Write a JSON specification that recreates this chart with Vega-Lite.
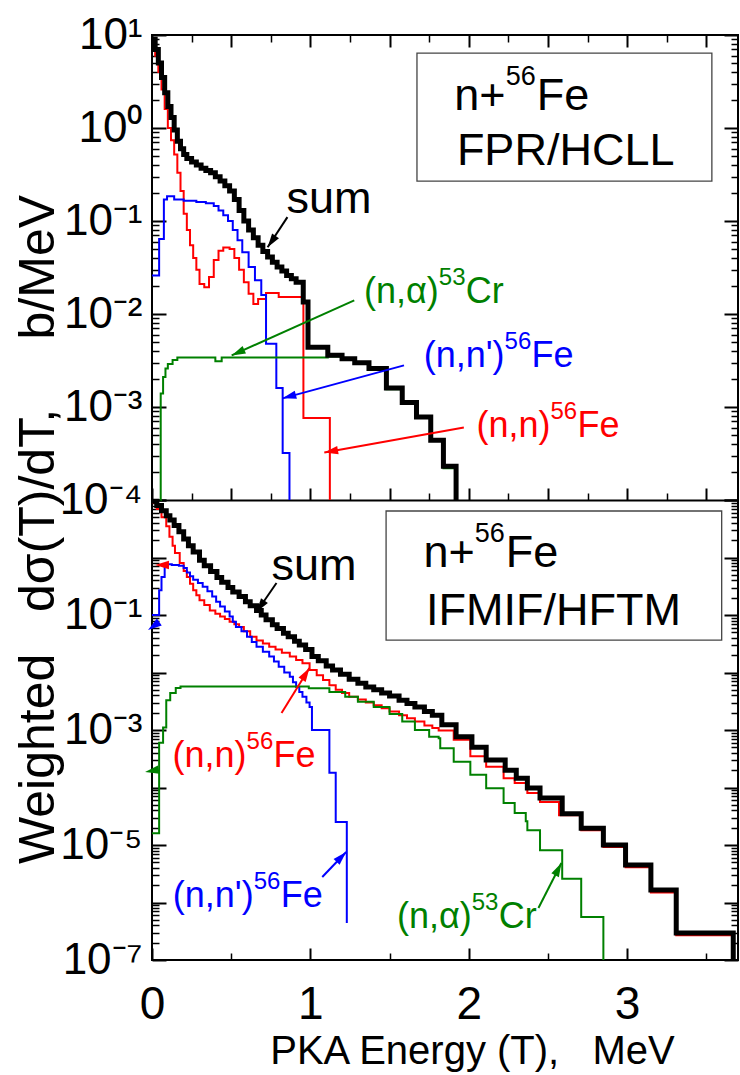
{
"$schema": "https://vega.github.io/schema/vega-lite/v6.json",
"width": 586, "height": 925,
"autosize": {"type": "none"},
"padding": {"left": 152, "top": 35, "right": 2, "bottom": 115},
"background": "white",
"config": {
 "view": {"stroke": "black", "strokeWidth": 2},
 "font": "Liberation Sans",
 "axis": {"labelFont": "Liberation Sans", "titleFont": "Liberation Sans", "tickColor": "black", "domainColor": "black", "labelColor": "black", "titleColor": "black", "grid": false, "labelOverlap": false, "labelFlush": false, "labelBound": false, "titleFontWeight": "normal", "domain": false, "tickWidth": 2},
 "text": {"font": "Liberation Sans"}
},
"datasets": {
 "curves": [
  {"p":"top","s":"sum","T":0.0,"v":9.0},{"p":"top","s":"sum","T":0.02,"v":7.0},{"p":"top","s":"sum","T":0.04,"v":5.0},{"p":"top","s":"sum","T":0.06,"v":3.5},{"p":"top","s":"sum","T":0.08,"v":2.4},{"p":"top","s":"sum","T":0.10,"v":1.7},{"p":"top","s":"sum","T":0.12,"v":1.3},{"p":"top","s":"sum","T":0.14,"v":0.95},{"p":"top","s":"sum","T":0.16,"v":0.72},{"p":"top","s":"sum","T":0.18,"v":0.6},{"p":"top","s":"sum","T":0.20,"v":0.52},{"p":"top","s":"sum","T":0.22,"v":0.47},{"p":"top","s":"sum","T":0.25,"v":0.43},{"p":"top","s":"sum","T":0.28,"v":0.40},{"p":"top","s":"sum","T":0.31,"v":0.37},{"p":"top","s":"sum","T":0.34,"v":0.35},{"p":"top","s":"sum","T":0.37,"v":0.33},{"p":"top","s":"sum","T":0.40,"v":0.30},{"p":"top","s":"sum","T":0.43,"v":0.27},{"p":"top","s":"sum","T":0.46,"v":0.24},{"p":"top","s":"sum","T":0.49,"v":0.21},{"p":"top","s":"sum","T":0.52,"v":0.17},{"p":"top","s":"sum","T":0.55,"v":0.13},{"p":"top","s":"sum","T":0.58,"v":0.10},{"p":"top","s":"sum","T":0.61,"v":0.08},{"p":"top","s":"sum","T":0.64,"v":0.066},{"p":"top","s":"sum","T":0.67,"v":0.055},{"p":"top","s":"sum","T":0.70,"v":0.047},{"p":"top","s":"sum","T":0.73,"v":0.041},{"p":"top","s":"sum","T":0.76,"v":0.036},{"p":"top","s":"sum","T":0.79,"v":0.032},{"p":"top","s":"sum","T":0.82,"v":0.029},{"p":"top","s":"sum","T":0.85,"v":0.026},{"p":"top","s":"sum","T":0.88,"v":0.024},{"p":"top","s":"sum","T":0.91,"v":0.022},{"p":"top","s":"sum","T":0.955,"v":0.0135},{"p":"top","s":"sum","T":0.985,"v":0.0044},{"p":"top","s":"sum","T":1.11,"v":0.0036},{"p":"top","s":"sum","T":1.2,"v":0.0033},{"p":"top","s":"sum","T":1.28,"v":0.003},{"p":"top","s":"sum","T":1.37,"v":0.0026},{"p":"top","s":"sum","T":1.48,"v":0.0016},{"p":"top","s":"sum","T":1.58,"v":0.00112},{"p":"top","s":"sum","T":1.67,"v":0.00078},{"p":"top","s":"sum","T":1.76,"v":0.00044},{"p":"top","s":"sum","T":1.84,"v":0.00023},{"p":"top","s":"sum","T":1.92,"v":0.0001},

  {"p":"top","s":"nn","T":0.0,"v":9.0},{"p":"top","s":"nn","T":0.02,"v":6.0},{"p":"top","s":"nn","T":0.04,"v":4.0},{"p":"top","s":"nn","T":0.06,"v":2.6},{"p":"top","s":"nn","T":0.08,"v":1.6},{"p":"top","s":"nn","T":0.10,"v":1.0},{"p":"top","s":"nn","T":0.12,"v":0.74},{"p":"top","s":"nn","T":0.14,"v":0.52},{"p":"top","s":"nn","T":0.16,"v":0.33},{"p":"top","s":"nn","T":0.18,"v":0.21},{"p":"top","s":"nn","T":0.20,"v":0.12},{"p":"top","s":"nn","T":0.22,"v":0.08},{"p":"top","s":"nn","T":0.24,"v":0.055},{"p":"top","s":"nn","T":0.26,"v":0.04},{"p":"top","s":"nn","T":0.28,"v":0.03},{"p":"top","s":"nn","T":0.30,"v":0.021},{"p":"top","s":"nn","T":0.33,"v":0.0194},{"p":"top","s":"nn","T":0.36,"v":0.025},{"p":"top","s":"nn","T":0.39,"v":0.038},{"p":"top","s":"nn","T":0.42,"v":0.048},{"p":"top","s":"nn","T":0.45,"v":0.052},{"p":"top","s":"nn","T":0.49,"v":0.05},{"p":"top","s":"nn","T":0.52,"v":0.04},{"p":"top","s":"nn","T":0.55,"v":0.03},{"p":"top","s":"nn","T":0.58,"v":0.022},{"p":"top","s":"nn","T":0.61,"v":0.0165},{"p":"top","s":"nn","T":0.64,"v":0.0128},{"p":"top","s":"nn","T":0.67,"v":0.0145},{"p":"top","s":"nn","T":0.72,"v":0.0168},{"p":"top","s":"nn","T":0.80,"v":0.0152},{"p":"top","s":"nn","T":0.956,"v":0.00076},{"p":"top","s":"nn","T":1.123,"v":0.0001},

  {"p":"top","s":"nnp","T":0.0,"v":0.026},{"p":"top","s":"nnp","T":0.045,"v":0.064},{"p":"top","s":"nnp","T":0.075,"v":0.17},{"p":"top","s":"nnp","T":0.095,"v":0.185},{"p":"top","s":"nnp","T":0.14,"v":0.17},{"p":"top","s":"nnp","T":0.20,"v":0.165},{"p":"top","s":"nnp","T":0.28,"v":0.16},{"p":"top","s":"nnp","T":0.34,"v":0.155},{"p":"top","s":"nnp","T":0.39,"v":0.145},{"p":"top","s":"nnp","T":0.42,"v":0.13},{"p":"top","s":"nnp","T":0.45,"v":0.115},{"p":"top","s":"nnp","T":0.48,"v":0.10},{"p":"top","s":"nnp","T":0.51,"v":0.08},{"p":"top","s":"nnp","T":0.54,"v":0.062},{"p":"top","s":"nnp","T":0.57,"v":0.046},{"p":"top","s":"nnp","T":0.61,"v":0.032},{"p":"top","s":"nnp","T":0.65,"v":0.023},{"p":"top","s":"nnp","T":0.69,"v":0.016},{"p":"top","s":"nnp","T":0.72,"v":0.0048},{"p":"top","s":"nnp","T":0.785,"v":0.0016},{"p":"top","s":"nnp","T":0.825,"v":0.00032},{"p":"top","s":"nnp","T":0.868,"v":0.0001},

  {"p":"top","s":"na","T":0.054,"v":0.0001},{"p":"top","s":"na","T":0.055,"v":0.0014},{"p":"top","s":"na","T":0.07,"v":0.0021},{"p":"top","s":"na","T":0.085,"v":0.0026},{"p":"top","s":"na","T":0.10,"v":0.0029},{"p":"top","s":"na","T":0.13,"v":0.0032},{"p":"top","s":"na","T":0.16,"v":0.0034},{"p":"top","s":"na","T":0.40,"v":0.0031},{"p":"top","s":"na","T":0.44,"v":0.0034},{"p":"top","s":"na","T":1.11,"v":0.0035},{"p":"top","s":"na","T":1.2,"v":0.0032},{"p":"top","s":"na","T":1.28,"v":0.0029},{"p":"top","s":"na","T":1.37,"v":0.0025},{"p":"top","s":"na","T":1.48,"v":0.00155},{"p":"top","s":"na","T":1.58,"v":0.0011},{"p":"top","s":"na","T":1.67,"v":0.00077},{"p":"top","s":"na","T":1.76,"v":0.00043},{"p":"top","s":"na","T":1.84,"v":0.00022},{"p":"top","s":"na","T":1.92,"v":0.0001},

  {"p":"bot","s":"sum","T":0.0,"v":9.5},{"p":"bot","s":"sum","T":0.03,"v":8.0},{"p":"bot","s":"sum","T":0.06,"v":6.5},{"p":"bot","s":"sum","T":0.09,"v":5.3},{"p":"bot","s":"sum","T":0.113,"v":4.5},{"p":"bot","s":"sum","T":0.14,"v":3.6},{"p":"bot","s":"sum","T":0.17,"v":2.8},{"p":"bot","s":"sum","T":0.20,"v":2.1},{"p":"bot","s":"sum","T":0.23,"v":1.6},{"p":"bot","s":"sum","T":0.26,"v":1.25},{"p":"bot","s":"sum","T":0.30,"v":0.9},{"p":"bot","s":"sum","T":0.33,"v":0.72},{"p":"bot","s":"sum","T":0.37,"v":0.57},{"p":"bot","s":"sum","T":0.41,"v":0.45},{"p":"bot","s":"sum","T":0.44,"v":0.37},{"p":"bot","s":"sum","T":0.48,"v":0.30},{"p":"bot","s":"sum","T":0.51,"v":0.25},{"p":"bot","s":"sum","T":0.55,"v":0.21},{"p":"bot","s":"sum","T":0.59,"v":0.17},{"p":"bot","s":"sum","T":0.62,"v":0.145},{"p":"bot","s":"sum","T":0.66,"v":0.12},{"p":"bot","s":"sum","T":0.69,"v":0.1},{"p":"bot","s":"sum","T":0.72,"v":0.083},{"p":"bot","s":"sum","T":0.76,"v":0.068},{"p":"bot","s":"sum","T":0.79,"v":0.058},{"p":"bot","s":"sum","T":0.83,"v":0.048},{"p":"bot","s":"sum","T":0.86,"v":0.042},{"p":"bot","s":"sum","T":0.90,"v":0.035},{"p":"bot","s":"sum","T":0.93,"v":0.030},{"p":"bot","s":"sum","T":0.97,"v":0.025},{"p":"bot","s":"sum","T":1.01,"v":0.019},{"p":"bot","s":"sum","T":1.05,"v":0.016},{"p":"bot","s":"sum","T":1.10,"v":0.013},{"p":"bot","s":"sum","T":1.14,"v":0.011},{"p":"bot","s":"sum","T":1.19,"v":0.0093},{"p":"bot","s":"sum","T":1.245,"v":0.0076},{"p":"bot","s":"sum","T":1.30,"v":0.0065},{"p":"bot","s":"sum","T":1.35,"v":0.0056},{"p":"bot","s":"sum","T":1.40,"v":0.005},{"p":"bot","s":"sum","T":1.45,"v":0.0044},{"p":"bot","s":"sum","T":1.50,"v":0.0039},{"p":"bot","s":"sum","T":1.56,"v":0.0033},{"p":"bot","s":"sum","T":1.61,"v":0.0029},{"p":"bot","s":"sum","T":1.66,"v":0.0025},{"p":"bot","s":"sum","T":1.72,"v":0.0021},{"p":"bot","s":"sum","T":1.77,"v":0.0018},{"p":"bot","s":"sum","T":1.83,"v":0.00123},{"p":"bot","s":"sum","T":1.92,"v":0.00076},{"p":"bot","s":"sum","T":2.02,"v":0.0005},{"p":"bot","s":"sum","T":2.11,"v":0.0003},{"p":"bot","s":"sum","T":2.23,"v":0.0002},{"p":"bot","s":"sum","T":2.30,"v":0.000145},{"p":"bot","s":"sum","T":2.37,"v":0.000098},{"p":"bot","s":"sum","T":2.45,"v":0.000066},{"p":"bot","s":"sum","T":2.59,"v":0.000035},{"p":"bot","s":"sum","T":2.71,"v":0.0000195},{"p":"bot","s":"sum","T":2.85,"v":0.00001},{"p":"bot","s":"sum","T":2.99,"v":0.0000045},{"p":"bot","s":"sum","T":3.15,"v":0.00000165},{"p":"bot","s":"sum","T":3.31,"v":0.000000295},{"p":"bot","s":"sum","T":3.67,"v":1e-7},

  {"p":"bot","s":"nn","T":0.0,"v":9.0},{"p":"bot","s":"nn","T":0.03,"v":7.0},{"p":"bot","s":"nn","T":0.06,"v":5.0},{"p":"bot","s":"nn","T":0.09,"v":3.5},{"p":"bot","s":"nn","T":0.11,"v":2.3},{"p":"bot","s":"nn","T":0.13,"v":1.6},{"p":"bot","s":"nn","T":0.145,"v":1.2},{"p":"bot","s":"nn","T":0.175,"v":0.8},{"p":"bot","s":"nn","T":0.20,"v":0.58},{"p":"bot","s":"nn","T":0.22,"v":0.46},{"p":"bot","s":"nn","T":0.24,"v":0.35},{"p":"bot","s":"nn","T":0.26,"v":0.27},{"p":"bot","s":"nn","T":0.28,"v":0.22},{"p":"bot","s":"nn","T":0.30,"v":0.18},{"p":"bot","s":"nn","T":0.33,"v":0.15},{"p":"bot","s":"nn","T":0.365,"v":0.12},{"p":"bot","s":"nn","T":0.40,"v":0.105},{"p":"bot","s":"nn","T":0.43,"v":0.094},{"p":"bot","s":"nn","T":0.46,"v":0.085},{"p":"bot","s":"nn","T":0.49,"v":0.076},{"p":"bot","s":"nn","T":0.52,"v":0.069},{"p":"bot","s":"nn","T":0.55,"v":0.062},{"p":"bot","s":"nn","T":0.58,"v":0.052},{"p":"bot","s":"nn","T":0.62,"v":0.042},{"p":"bot","s":"nn","T":0.66,"v":0.036},{"p":"bot","s":"nn","T":0.70,"v":0.032},{"p":"bot","s":"nn","T":0.74,"v":0.028},{"p":"bot","s":"nn","T":0.78,"v":0.025},{"p":"bot","s":"nn","T":0.82,"v":0.022},{"p":"bot","s":"nn","T":0.87,"v":0.019},{"p":"bot","s":"nn","T":0.91,"v":0.0165},{"p":"bot","s":"nn","T":0.95,"v":0.0145},{"p":"bot","s":"nn","T":0.995,"v":0.011},{"p":"bot","s":"nn","T":1.04,"v":0.009},{"p":"bot","s":"nn","T":1.08,"v":0.0074},{"p":"bot","s":"nn","T":1.12,"v":0.006},{"p":"bot","s":"nn","T":1.16,"v":0.005},{"p":"bot","s":"nn","T":1.20,"v":0.0044},{"p":"bot","s":"nn","T":1.245,"v":0.0038},{"p":"bot","s":"nn","T":1.30,"v":0.0034},{"p":"bot","s":"nn","T":1.35,"v":0.003},{"p":"bot","s":"nn","T":1.40,"v":0.0027},{"p":"bot","s":"nn","T":1.45,"v":0.0024},{"p":"bot","s":"nn","T":1.50,"v":0.0021},{"p":"bot","s":"nn","T":1.56,"v":0.0018},{"p":"bot","s":"nn","T":1.61,"v":0.0016},{"p":"bot","s":"nn","T":1.66,"v":0.0014},{"p":"bot","s":"nn","T":1.72,"v":0.0012},{"p":"bot","s":"nn","T":1.77,"v":0.00108},{"p":"bot","s":"nn","T":1.81,"v":0.00098},{"p":"bot","s":"nn","T":1.905,"v":0.00068},{"p":"bot","s":"nn","T":2.01,"v":0.00035},{"p":"bot","s":"nn","T":2.11,"v":0.00023},{"p":"bot","s":"nn","T":2.22,"v":0.000145},{"p":"bot","s":"nn","T":2.29,"v":0.00012},{"p":"bot","s":"nn","T":2.37,"v":0.00008},{"p":"bot","s":"nn","T":2.45,"v":0.000056},{"p":"bot","s":"nn","T":2.57,"v":0.000033},{"p":"bot","s":"nn","T":2.71,"v":0.000018},{"p":"bot","s":"nn","T":2.85,"v":0.0000092},{"p":"bot","s":"nn","T":2.99,"v":0.0000041},{"p":"bot","s":"nn","T":3.15,"v":0.0000015},{"p":"bot","s":"nn","T":3.31,"v":0.00000027},{"p":"bot","s":"nn","T":3.67,"v":1e-7},

  {"p":"bot","s":"nnp","T":0.0,"v":0.1},{"p":"bot","s":"nnp","T":0.045,"v":0.27},{"p":"bot","s":"nnp","T":0.06,"v":0.46},{"p":"bot","s":"nnp","T":0.08,"v":0.69},{"p":"bot","s":"nnp","T":0.10,"v":0.76},{"p":"bot","s":"nnp","T":0.125,"v":0.74},{"p":"bot","s":"nnp","T":0.17,"v":0.72},{"p":"bot","s":"nnp","T":0.20,"v":0.66},{"p":"bot","s":"nnp","T":0.22,"v":0.55},{"p":"bot","s":"nnp","T":0.24,"v":0.47},{"p":"bot","s":"nnp","T":0.26,"v":0.41},{"p":"bot","s":"nnp","T":0.29,"v":0.36},{"p":"bot","s":"nnp","T":0.32,"v":0.31},{"p":"bot","s":"nnp","T":0.35,"v":0.26},{"p":"bot","s":"nnp","T":0.38,"v":0.21},{"p":"bot","s":"nnp","T":0.405,"v":0.17},{"p":"bot","s":"nnp","T":0.43,"v":0.14},{"p":"bot","s":"nnp","T":0.46,"v":0.115},{"p":"bot","s":"nnp","T":0.49,"v":0.094},{"p":"bot","s":"nnp","T":0.51,"v":0.076},{"p":"bot","s":"nnp","T":0.53,"v":0.062},{"p":"bot","s":"nnp","T":0.565,"v":0.052},{"p":"bot","s":"nnp","T":0.60,"v":0.042},{"p":"bot","s":"nnp","T":0.63,"v":0.034},{"p":"bot","s":"nnp","T":0.66,"v":0.028},{"p":"bot","s":"nnp","T":0.70,"v":0.023},{"p":"bot","s":"nnp","T":0.74,"v":0.019},{"p":"bot","s":"nnp","T":0.77,"v":0.0155},{"p":"bot","s":"nnp","T":0.80,"v":0.0126},{"p":"bot","s":"nnp","T":0.835,"v":0.01},{"p":"bot","s":"nnp","T":0.87,"v":0.0084},{"p":"bot","s":"nnp","T":0.89,"v":0.0068},{"p":"bot","s":"nnp","T":0.91,"v":0.0056},{"p":"bot","s":"nnp","T":0.93,"v":0.0046},{"p":"bot","s":"nnp","T":0.95,"v":0.0038},{"p":"bot","s":"nnp","T":0.975,"v":0.003},{"p":"bot","s":"nnp","T":0.995,"v":0.0025},{"p":"bot","s":"nnp","T":1.01,"v":0.001},{"p":"bot","s":"nnp","T":1.12,"v":0.00018},{"p":"bot","s":"nnp","T":1.16,"v":0.000025},{"p":"bot","s":"nnp","T":1.23,"v":0.00000044},

  {"p":"bot","s":"na","T":0.0,"v":0.000016},{"p":"bot","s":"na","T":0.045,"v":0.0006},{"p":"bot","s":"na","T":0.07,"v":0.0011},{"p":"bot","s":"na","T":0.09,"v":0.0033},{"p":"bot","s":"na","T":0.115,"v":0.0044},{"p":"bot","s":"na","T":0.15,"v":0.0054},{"p":"bot","s":"na","T":0.18,"v":0.0057},{"p":"bot","s":"na","T":0.99,"v":0.0053},{"p":"bot","s":"na","T":1.12,"v":0.0046},{"p":"bot","s":"na","T":1.22,"v":0.0038},{"p":"bot","s":"na","T":1.30,"v":0.0031},{"p":"bot","s":"na","T":1.40,"v":0.0025},{"p":"bot","s":"na","T":1.50,"v":0.0019},{"p":"bot","s":"na","T":1.58,"v":0.0014},{"p":"bot","s":"na","T":1.66,"v":0.001},{"p":"bot","s":"na","T":1.75,"v":0.00076},{"p":"bot","s":"na","T":1.81,"v":0.00072},{"p":"bot","s":"na","T":1.82,"v":0.00048},{"p":"bot","s":"na","T":1.905,"v":0.00028},{"p":"bot","s":"na","T":2.01,"v":0.000166},{"p":"bot","s":"na","T":2.11,"v":0.000097},{"p":"bot","s":"na","T":2.22,"v":0.000054},{"p":"bot","s":"na","T":2.29,"v":0.000036},{"p":"bot","s":"na","T":2.36,"v":0.000026},{"p":"bot","s":"na","T":2.37,"v":0.000018},{"p":"bot","s":"na","T":2.45,"v":0.0000081},{"p":"bot","s":"na","T":2.59,"v":0.0000026},{"p":"bot","s":"na","T":2.71,"v":0.00000056},{"p":"bot","s":"na","T":2.85,"v":1e-7}
 ],
 "sup": [
  {"p":"top","s":"na","k":"r","x":1.811,"y":0.01303,"pre":"(n,α)","sup":"53","post":"Cr"},
  {"p":"top","s":"nnp","k":"r","x":2.226,"y":0.002667,"pre":"(n,n')","sup":"56","post":"Fe"},
  {"p":"top","s":"nn","k":"r","x":2.516,"y":0.000471,"pre":"(n,n)","sup":"56","post":"Fe"},
  {"p":"top","s":"k","k":"b","x":2.233,"y":1.56,"pre":"n+","sup":"56","post":"Fe"},
  {"p":"bot","s":"nn","k":"r","x":0.597,"y":0.000228,"pre":"(n,n)","sup":"56","post":"Fe"},
  {"p":"bot","s":"nnp","k":"r","x":0.642,"y":8.35e-7,"pre":"(n,n')","sup":"56","post":"Fe"},
  {"p":"bot","s":"na","k":"r","x":2.019,"y":3.6e-7,"pre":"(n,α)","sup":"53","post":"Cr"},
  {"p":"bot","s":"k","k":"b","x":2.038,"y":0.684,"pre":"n+","sup":"56","post":"Fe"}
 ],
 "txt": [
  {"p":"top","x":0.849,"y":0.1213,"t":"sum"},
  {"p":"top","x":1.925,"y":0.399,"t":"FPR/HCLL"},
  {"p":"bot","x":0.755,"y":0.406,"t":"sum"},
  {"p":"bot","x":1.730,"y":0.067,"t":"IFMIF/HFTM"}
 ],
 "boxes": [
  {"p":"top","x":1.673,"x2":3.535,"y":6.4,"y2":0.268},
  {"p":"bot","x":1.478,"x2":3.597,"y":6.44,"y2":0.0367}
 ],
 "arrows": [
  {"p":"top","s":"sum","tx":0.855,"ty":0.110,"hx":0.730,"hy":0.0522,"a":215},
  {"p":"top","s":"na","tx":1.277,"ty":0.01403,"hx":0.503,"hy":0.003589,"a":246},
  {"p":"top","s":"nnp","tx":1.591,"ty":0.002805,"hx":0.824,"hy":0.001239,"a":255},
  {"p":"top","s":"nn","tx":1.969,"ty":0.000603,"hx":1.088,"hy":0.000324,"a":260},
  {"p":"bot","s":"sum","tx":0.786,"ty":0.3606,"hx":0.660,"hy":0.1127,"a":215},
  {"p":"bot","s":"nn","tx":0.818,"ty":0.001977,"hx":0.994,"hy":0.01197,"a":32},
  {"p":"bot","s":"nnp","tx":1.075,"ty":2.77e-6,"hx":1.226,"hy":7.55e-6,"a":44},
  {"p":"bot","s":"na","tx":2.44,"ty":8.0e-7,"hx":2.585,"hy":4.87e-6,"a":27},
  {"p":"bot","s":"nn","tx":0.02,"ty":0.741,"hx":0.02,"hy":0.741,"a":270},
  {"p":"bot","s":"nnp","tx":-0.025,"ty":0.055,"hx":-0.025,"hy":0.055,"a":235},
  {"p":"bot","s":"na","tx":-0.044,"ty":0.000186,"hx":-0.044,"hy":0.000186,"a":260}
 ]
},
"layer": [
 {
  "layer": [
   {
    "data": {"name": "curves"},
    "transform": [{"filter": "datum.p == 'top' && datum.s != 'sum'"}],
    "mark": {"type": "line", "interpolate": "step-after", "clip": true, "strokeWidth": 2},
    "encoding": {
     "x": {"field": "T", "type": "quantitative", "scale": {"domain": [0, 3.7], "nice": false, "zero": false},
       "axis": {"orient": "top", "values": [0,0.5,1,1.5,2,2.5,3,3.5], "tickSize": -12, "labels": false, "title": null}},
     "y": {"field": "v", "type": "quantitative", "scale": {"type": "log", "domain": [0.0001, 10], "range": [465, 0], "nice": false},
       "axis": {"orient": "left", "values": [0.0001,0.001,0.01,0.1,1,10], "tickSize": -14, "labelFontSize": 44, "labelPadding": 24,
         "labelExpr": "['10⁻⁷','10⁻⁶','10⁻⁵','10⁻⁴','10⁻³','10⁻²','10⁻¹','10⁰','10¹'][round(log(datum.value)/LN10)+7]",
         "title": "Weighted\u00a0\u00a0\u00a0dσ(T)/dT,\u00a0\u00a0\u00a0\u00a0\u00a0b/MeV", "titleFontSize": 50, "titleAngle": 270, "titleX": -99, "titleY": 494, "titleAlign": "center", "titleBaseline": "alphabetic"}},
     "color": {"field": "s", "type": "nominal", "scale": {"domain": ["sum","nn","nnp","na","k"], "range": ["#000000","#ff0000","#0000ff","#008000","#000000"]}, "legend": null}
    }
   },
   {
    "data": {"name": "curves"},
    "transform": [{"filter": "datum.p == 'top' && datum.s == 'sum'"}],
    "mark": {"type": "line", "interpolate": "step-after", "clip": true, "strokeWidth": 5, "color": "#000000"},
    "encoding": {
     "x": {"field": "T", "type": "quantitative", "scale": {"domain": [0, 3.7], "nice": false, "zero": false},
       "axis": {"orient": "top", "values": [0.25,0.75,1.25,1.75,2.25,2.75,3.25], "tickSize": -7, "tickWidth": 1.5, "labels": false, "title": null}},
     "y": {"field": "v", "type": "quantitative", "scale": {"type": "log", "domain": [0.0001, 10], "range": [465, 0], "nice": false},
       "axis": {"orient": "left", "values": [0.0002,0.0003,0.0004,0.0005,0.0006,0.0007,0.0008,0.0009,0.002,0.003,0.004,0.005,0.006,0.007,0.008,0.009,0.02,0.03,0.04,0.05,0.06,0.07,0.08,0.09,0.2,0.3,0.4,0.5,0.6,0.7,0.8,0.9,2,3,4,5,6,7,8,9], "tickSize": -7, "tickWidth": 1.5, "labels": false, "title": null}}
    }
   },
   {
    "data": {"name": "boxes"},
    "transform": [{"filter": "datum.p == 'top'"}],
    "mark": {"type": "rect", "fill": null, "fillOpacity": 0, "stroke": "#444444", "strokeWidth": 1.3},
    "encoding": {
     "x": {"field": "x", "type": "quantitative", "scale": {"domain": [0, 3.7], "nice": false, "zero": false},
       "axis": {"orient": "bottom", "offset": -460, "values": [0,0.5,1,1.5,2,2.5,3,3.5], "tickSize": -12, "labels": false, "title": null, "domain": true, "domainWidth": 2}},
     "x2": {"field": "x2"},
     "y": {"field": "y", "type": "quantitative", "scale": {"type": "log", "domain": [0.0001, 10], "range": [465, 0], "nice": false},
       "axis": {"orient": "right", "values": [0.0001,0.001,0.01,0.1,1,10], "tickSize": -14, "labels": false, "title": null}},
     "y2": {"field": "y2"}
    }
   },
   {
    "data": {"name": "arrows"},
    "transform": [{"filter": "datum.p == 'top'"}],
    "mark": {"type": "rule", "strokeWidth": 2},
    "encoding": {
     "x": {"field": "tx", "type": "quantitative", "scale": {"domain": [0, 3.7], "nice": false, "zero": false},
       "axis": {"orient": "bottom", "offset": -460, "values": [0.25,0.75,1.25,1.75,2.25,2.75,3.25], "tickSize": -7, "tickWidth": 1.5, "labels": false, "title": null}},
     "x2": {"field": "hx"},
     "y": {"field": "ty", "type": "quantitative", "scale": {"type": "log", "domain": [0.0001, 10], "range": [465, 0], "nice": false},
       "axis": {"orient": "right", "values": [0.0002,0.0003,0.0004,0.0005,0.0006,0.0007,0.0008,0.0009,0.002,0.003,0.004,0.005,0.006,0.007,0.008,0.009,0.02,0.03,0.04,0.05,0.06,0.07,0.08,0.09,0.2,0.3,0.4,0.5,0.6,0.7,0.8,0.9,2,3,4,5,6,7,8,9], "tickSize": -7, "tickWidth": 1.5, "labels": false, "title": null}},
     "y2": {"field": "hy"},
     "color": {"field": "s", "type": "nominal", "legend": null}
    }
   },
   {
    "data": {"name": "arrows"},
    "transform": [{"filter": "datum.p == 'top'"}],
    "mark": {"type": "point", "shape": "M0,0L0.7,2.3L-0.7,2.3Z", "filled": true, "opacity": 1, "size": 144, "strokeWidth": 0},
    "encoding": {
     "x": {"field": "hx", "type": "quantitative", "scale": {"domain": [0, 3.7], "nice": false, "zero": false}, "axis": null},
     "y": {"field": "hy", "type": "quantitative", "scale": {"type": "log", "domain": [0.0001, 10], "range": [465, 0], "nice": false}, "axis": null},
     "angle": {"field": "a", "type": "quantitative", "scale": null},
     "color": {"field": "s", "type": "nominal", "legend": null}
    }
   },
   {
    "data": {"name": "txt"},
    "transform": [{"filter": "datum.p == 'top'"}],
    "mark": {"type": "text", "align": "left", "baseline": "alphabetic", "fontSize": 45, "color": "#000000"},
    "encoding": {
     "x": {"field": "x", "type": "quantitative", "scale": {"domain": [0, 3.7], "nice": false, "zero": false}, "axis": null},
     "y": {"field": "y", "type": "quantitative", "scale": {"type": "log", "domain": [0.0001, 10], "range": [465, 0], "nice": false}, "axis": null},
     "text": {"field": "t"}
    }
   },
   {
    "data": {"name": "sup"},
    "transform": [{"filter": "datum.p == 'top'"}],
    "mark": {"type": "text", "align": "right", "baseline": "alphabetic", "fontSize": {"expr": "datum.k == 'b' ? 45 : 36"}},
    "encoding": {
     "x": {"field": "x", "type": "quantitative", "scale": {"domain": [0, 3.7], "nice": false, "zero": false}, "axis": null},
     "y": {"field": "y", "type": "quantitative", "scale": {"type": "log", "domain": [0.0001, 10], "range": [465, 0], "nice": false}, "axis": null},
     "text": {"field": "pre"},
     "color": {"field": "s", "type": "nominal", "legend": null}
    }
   },
   {
    "data": {"name": "sup"},
    "transform": [{"filter": "datum.p == 'top'"}],
    "mark": {"type": "text", "align": "left", "baseline": "alphabetic", "fontSize": {"expr": "datum.k == 'b' ? 27 : 24"}, "dy": {"expr": "datum.k == 'b' ? -25 : -18"}},
    "encoding": {
     "x": {"field": "x", "type": "quantitative", "scale": {"domain": [0, 3.7], "nice": false, "zero": false}, "axis": null},
     "y": {"field": "y", "type": "quantitative", "scale": {"type": "log", "domain": [0.0001, 10], "range": [465, 0], "nice": false}, "axis": null},
     "text": {"field": "sup"},
     "color": {"field": "s", "type": "nominal", "legend": null}
    }
   },
   {
    "data": {"name": "sup"},
    "transform": [{"filter": "datum.p == 'top'"}],
    "mark": {"type": "text", "align": "left", "baseline": "alphabetic", "fontSize": {"expr": "datum.k == 'b' ? 45 : 36"}, "dx": {"expr": "datum.k == 'b' ? 31 : 27"}},
    "encoding": {
     "x": {"field": "x", "type": "quantitative", "scale": {"domain": [0, 3.7], "nice": false, "zero": false}, "axis": null},
     "y": {"field": "y", "type": "quantitative", "scale": {"type": "log", "domain": [0.0001, 10], "range": [465, 0], "nice": false}, "axis": null},
     "text": {"field": "post"},
     "color": {"field": "s", "type": "nominal", "legend": null}
    }
   }
  ],
  "resolve": {"axis": {"x": "independent", "y": "independent"}}
 },
 {
  "layer": [
   {
    "data": {"name": "curves"},
    "transform": [{"filter": "datum.p == 'bot' && datum.s != 'sum'"}],
    "mark": {"type": "line", "interpolate": "step-after", "clip": true, "strokeWidth": 2},
    "encoding": {
     "x": {"field": "T", "type": "quantitative", "scale": {"domain": [0, 3.7], "nice": false, "zero": false},
       "axis": {"orient": "bottom", "values": [0,1,2,3], "tickSize": -12, "labelFontSize": 46, "labelPadding": 34,
         "title": "PKA Energy (T),\u00a0\u00a0\u00a0MeV", "titleFontSize": 40, "titleX": 320, "titleY": 103, "titleAlign": "center", "titleBaseline": "alphabetic"}},
     "y": {"field": "v", "type": "quantitative", "scale": {"type": "log", "domain": [1e-7, 10], "range": [925, 465], "nice": false},
       "axis": {"orient": "left", "values": [1e-7,1e-6,1e-5,1e-4,0.001,0.01,0.1,1,10], "tickSize": -14, "labelFontSize": 44, "labelPadding": 24,
         "labelExpr": "['10⁻⁷','','10⁻⁵','','10⁻³','','10⁻¹','',''][round(log(datum.value)/LN10)+7]", "title": null}},
     "color": {"field": "s", "type": "nominal", "legend": null}
    }
   },
   {
    "data": {"name": "curves"},
    "transform": [{"filter": "datum.p == 'bot' && datum.s == 'sum'"}],
    "mark": {"type": "line", "interpolate": "step-after", "clip": true, "strokeWidth": 5, "color": "#000000"},
    "encoding": {
     "x": {"field": "T", "type": "quantitative", "scale": {"domain": [0, 3.7], "nice": false, "zero": false},
       "axis": {"orient": "bottom", "values": [0.5,1.5,2.5,3.5], "tickSize": -7, "tickWidth": 1.5, "labels": false, "title": null}},
     "y": {"field": "v", "type": "quantitative", "scale": {"type": "log", "domain": [1e-7, 10], "range": [925, 465], "nice": false},
       "axis": {"orient": "left", "values": [2e-7,3e-7,4e-7,5e-7,6e-7,7e-7,8e-7,9e-7,2e-6,3e-6,4e-6,5e-6,6e-6,7e-6,8e-6,9e-6,2e-5,3e-5,4e-5,5e-5,6e-5,7e-5,8e-5,9e-5,0.0002,0.0003,0.0004,0.0005,0.0006,0.0007,0.0008,0.0009,0.002,0.003,0.004,0.005,0.006,0.007,0.008,0.009,0.02,0.03,0.04,0.05,0.06,0.07,0.08,0.09,0.2,0.3,0.4,0.5,0.6,0.7,0.8,0.9,2,3,4,5,6,7,8,9], "tickSize": -7, "tickWidth": 1.5, "labels": false, "title": null}}
    }
   },
   {
    "data": {"name": "boxes"},
    "transform": [{"filter": "datum.p == 'bot'"}],
    "mark": {"type": "rect", "fill": null, "fillOpacity": 0, "stroke": "#444444", "strokeWidth": 1.3},
    "encoding": {
     "x": {"field": "x", "type": "quantitative", "scale": {"domain": [0, 3.7], "nice": false, "zero": false}, "axis": null},
     "x2": {"field": "x2"},
     "y": {"field": "y", "type": "quantitative", "scale": {"type": "log", "domain": [1e-7, 10], "range": [925, 465], "nice": false},
       "axis": {"orient": "right", "values": [1e-7,1e-6,1e-5,1e-4,0.001,0.01,0.1,1,10], "tickSize": -14, "labels": false, "title": null}},
     "y2": {"field": "y2"}
    }
   },
   {
    "data": {"name": "arrows"},
    "transform": [{"filter": "datum.p == 'bot'"}],
    "mark": {"type": "rule", "strokeWidth": 2},
    "encoding": {
     "x": {"field": "tx", "type": "quantitative", "scale": {"domain": [0, 3.7], "nice": false, "zero": false}, "axis": null},
     "x2": {"field": "hx"},
     "y": {"field": "ty", "type": "quantitative", "scale": {"type": "log", "domain": [1e-7, 10], "range": [925, 465], "nice": false},
       "axis": {"orient": "right", "values": [2e-7,3e-7,4e-7,5e-7,6e-7,7e-7,8e-7,9e-7,2e-6,3e-6,4e-6,5e-6,6e-6,7e-6,8e-6,9e-6,2e-5,3e-5,4e-5,5e-5,6e-5,7e-5,8e-5,9e-5,0.0002,0.0003,0.0004,0.0005,0.0006,0.0007,0.0008,0.0009,0.002,0.003,0.004,0.005,0.006,0.007,0.008,0.009,0.02,0.03,0.04,0.05,0.06,0.07,0.08,0.09,0.2,0.3,0.4,0.5,0.6,0.7,0.8,0.9,2,3,4,5,6,7,8,9], "tickSize": -7, "tickWidth": 1.5, "labels": false, "title": null}},
     "y2": {"field": "hy"},
     "color": {"field": "s", "type": "nominal", "legend": null}
    }
   },
   {
    "data": {"name": "arrows"},
    "transform": [{"filter": "datum.p == 'bot'"}],
    "mark": {"type": "point", "shape": "M0,0L0.7,2.3L-0.7,2.3Z", "filled": true, "opacity": 1, "size": 144, "strokeWidth": 0},
    "encoding": {
     "x": {"field": "hx", "type": "quantitative", "scale": {"domain": [0, 3.7], "nice": false, "zero": false}, "axis": null},
     "y": {"field": "hy", "type": "quantitative", "scale": {"type": "log", "domain": [1e-7, 10], "range": [925, 465], "nice": false}, "axis": null},
     "angle": {"field": "a", "type": "quantitative", "scale": null},
     "color": {"field": "s", "type": "nominal", "legend": null}
    }
   },
   {
    "data": {"name": "txt"},
    "transform": [{"filter": "datum.p == 'bot'"}],
    "mark": {"type": "text", "align": "left", "baseline": "alphabetic", "fontSize": 45, "color": "#000000"},
    "encoding": {
     "x": {"field": "x", "type": "quantitative", "scale": {"domain": [0, 3.7], "nice": false, "zero": false}, "axis": null},
     "y": {"field": "y", "type": "quantitative", "scale": {"type": "log", "domain": [1e-7, 10], "range": [925, 465], "nice": false}, "axis": null},
     "text": {"field": "t"}
    }
   },
   {
    "data": {"name": "sup"},
    "transform": [{"filter": "datum.p == 'bot'"}],
    "mark": {"type": "text", "align": "right", "baseline": "alphabetic", "fontSize": {"expr": "datum.k == 'b' ? 45 : 36"}},
    "encoding": {
     "x": {"field": "x", "type": "quantitative", "scale": {"domain": [0, 3.7], "nice": false, "zero": false}, "axis": null},
     "y": {"field": "y", "type": "quantitative", "scale": {"type": "log", "domain": [1e-7, 10], "range": [925, 465], "nice": false}, "axis": null},
     "text": {"field": "pre"},
     "color": {"field": "s", "type": "nominal", "legend": null}
    }
   },
   {
    "data": {"name": "sup"},
    "transform": [{"filter": "datum.p == 'bot'"}],
    "mark": {"type": "text", "align": "left", "baseline": "alphabetic", "fontSize": {"expr": "datum.k == 'b' ? 27 : 24"}, "dy": {"expr": "datum.k == 'b' ? -25 : -18"}},
    "encoding": {
     "x": {"field": "x", "type": "quantitative", "scale": {"domain": [0, 3.7], "nice": false, "zero": false}, "axis": null},
     "y": {"field": "y", "type": "quantitative", "scale": {"type": "log", "domain": [1e-7, 10], "range": [925, 465], "nice": false}, "axis": null},
     "text": {"field": "sup"},
     "color": {"field": "s", "type": "nominal", "legend": null}
    }
   },
   {
    "data": {"name": "sup"},
    "transform": [{"filter": "datum.p == 'bot'"}],
    "mark": {"type": "text", "align": "left", "baseline": "alphabetic", "fontSize": {"expr": "datum.k == 'b' ? 45 : 36"}, "dx": {"expr": "datum.k == 'b' ? 31 : 27"}},
    "encoding": {
     "x": {"field": "x", "type": "quantitative", "scale": {"domain": [0, 3.7], "nice": false, "zero": false}, "axis": null},
     "y": {"field": "y", "type": "quantitative", "scale": {"type": "log", "domain": [1e-7, 10], "range": [925, 465], "nice": false}, "axis": null},
     "text": {"field": "post"},
     "color": {"field": "s", "type": "nominal", "legend": null}
    }
   }
  ],
  "resolve": {"axis": {"x": "independent", "y": "independent"}}
 }
],
"resolve": {"scale": {"y": "independent"}, "axis": {"x": "independent", "y": "independent"}}
}
